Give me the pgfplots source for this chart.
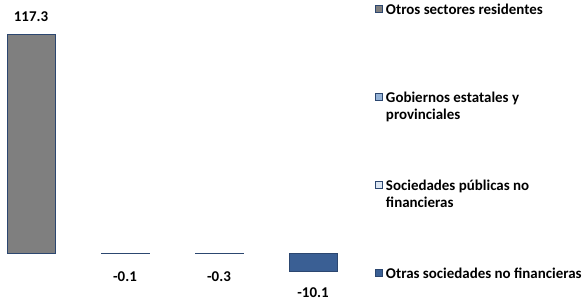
\documentclass[border=0pt]{standalone}
\usepackage{fontspec}
\setmainfont{Carlito}
\usepackage{pgfplots}
\pgfplotsset{compat=1.18}
\definecolor{c1}{HTML}{7F7F7F}
\definecolor{c2}{HTML}{95B3D7}
\definecolor{c3}{HTML}{DCE6F2}
\definecolor{c4}{HTML}{3A5F94}
\definecolor{edge}{HTML}{2C4770}
\newcommand{\lf}{\fontsize{15}{17.5}\selectfont\bfseries}
\newcommand{\legent}[1]{\parbox[t]{200bp}{#1}}
\begin{document}
\begin{tikzpicture}
\useasboundingbox (0,0) rectangle (582bp,301bp);
\begin{axis}[
  at={(0,0)}, anchor=south west,
  scale only axis, width=360bp, height=301bp,
  xmin=-0.33, xmax=3.5, ymin=-25.8, ymax=136,
  hide axis, clip=false,
  ybar, bar width=48bp, bar shift=0pt,
  nodes near coords={\pgfmathprintnumber[fixed,fixed zerofill,precision=1,assume math mode=true]{\pgfplotspointmeta}},
  every node near coord/.append style={font=\lf, text=black, anchor=center},
  legend style={draw=none, fill=none, at={(axis description cs:1,1)}, anchor=north west,
    xshift=12bp, yshift=-2bp, font=\lf, row sep=0pt, column sep=3bp,
    nodes={inner sep=0pt, text height=10bp, text depth=78bp},
    cells={anchor=base west}},
  legend image code/.code={\path[draw=none, fill=none] (0bp,-0.2bp) -- (7bp,-0.2bp); \draw[#1, draw=edge, line width=0.8pt] (0bp,1.8bp) rectangle (7bp,8.8bp);},
]
\addplot[fill=c1, draw=edge, line width=0.8pt, every node near coord/.append style={yshift=18bp}] coordinates {(0,117.3)};
\addplot[fill=c2, draw=edge, line width=0.8pt, every node near coord/.append style={yshift=-23bp}] coordinates {(1,-0.1)};
\addplot[fill=c3, draw=edge, line width=0.8pt, every node near coord/.append style={yshift=-23bp}] coordinates {(2,-0.3)};
\addplot[fill=c4, draw=edge, line width=0.8pt, every node near coord/.append style={yshift=-21bp}] coordinates {(3,-10.1)};
\legend{\legent{Otros sectores residentes},\legent{Gobiernos estatales y\\provinciales},\legent{Sociedades públicas no\\financieras},\legent{Otras sociedades no financieras}}
\end{axis}
\end{tikzpicture}
\end{document}
